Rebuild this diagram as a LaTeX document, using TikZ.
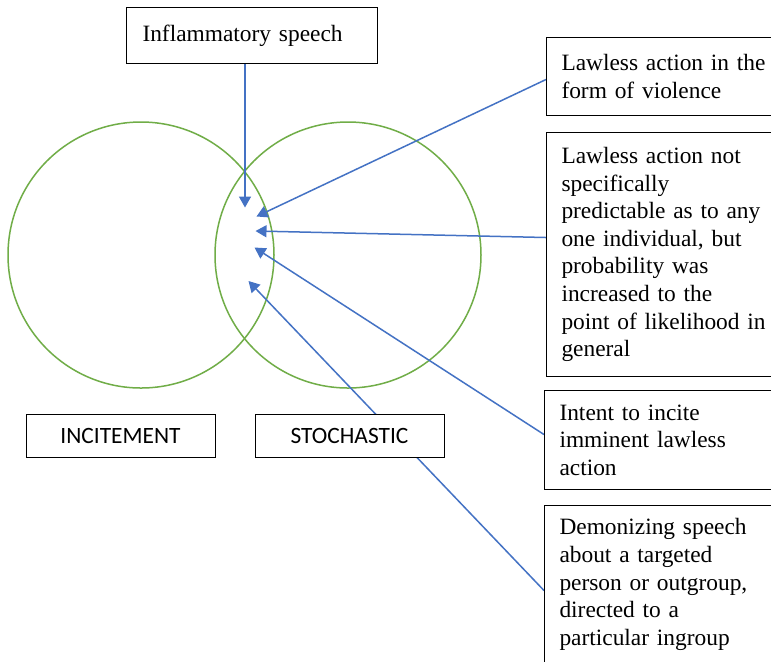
\documentclass[tikz,border=0pt]{standalone}
\usepackage{fontspec}
\setmainfont{Liberation Serif}
\newfontfamily\labelsans{Carlito}
\usetikzlibrary{arrows.meta}
\usetikzlibrary{backgrounds}
\tikzset{>={Triangle[length=5.5pt,width=6pt]}}
\colorlet{background}{white}
\definecolor{ringColor}{RGB}{112,173,71}
\definecolor{arrowColor}{RGB}{68,114,196}
\tikzset{
  notebox/.style={draw, fill=background, line width=0.5pt, anchor=north west,
    inner xsep=7.5pt, inner ysep=0pt, align=left,
    font=\fontsize{11.7}{13.8}\selectfont},
  setbox/.style={draw, fill=background, line width=0.5pt, inner sep=0pt,
    minimum width=94.5pt, minimum height=21.5pt,
    font=\labelsans\fontsize{11.7}{14}\selectfont},
  pointer/.style={->, arrowColor, line width=0.75pt},
}

\begin{document}
\begin{tikzpicture}[x=0.5pt,y=-0.5pt]
  \useasboundingbox (0,0) rectangle (771,661);
      \coordinate (L) at (141,255);
      \coordinate (R) at (348,255);
      % arrow tips in the overlap
      \coordinate (t0) at (245,207.5);
      \coordinate (t1) at (256.5,216.5);
      \coordinate (t2) at (255.5,231);
      \coordinate (t3) at (254.5,247.5);
      \coordinate (t4) at (248.5,281);
      \node[notebox, text width=109.5pt, inner xsep=8pt, minimum height=28pt] (infl) at (126,7) {Inflammatory speech};
      \node[notebox, text width=110pt, minimum height=39pt] (form) at (546,37)
        {Lawless action in the\\ form of violence};
      \node[notebox, text width=110pt, minimum height=122pt] (likely) at (546,132)
        {Lawless action not\\ specifically\\ predictable as to any\\ one individual, but\\ probability was\\ increased to the\\ point of likelihood in\\ general};
      \node[notebox, text width=110pt, minimum height=49.5pt] (intent) at (544,390)
        {Intent to incite\\ imminent lawless\\ action};
      \node[notebox, text width=110pt, minimum height=79pt] (demon) at (544,505)
        {Demonizing speech\\ about a targeted\\ person or outgroup,\\ directed to a\\ particular ingroup};
      \node[setbox] (incite) at (120.5,435.5) {INCITEMENT};
      \node[setbox] (stoch) at (349.5,435.5) {STOCHASTIC};
    \begin{scope}[on background layer]
      \fill[background] (0,0) rectangle (771,661);
      \draw[ringColor, line width=0.75pt] (L) circle [radius=133];
      \draw[ringColor, line width=0.75pt] (R) circle [radius=133];
      \draw[pointer] (infl.south -| t0) -- (t0);
      \draw[pointer] ([yshift=-1.5pt]form.west) -- (t1);
      \draw[pointer] ([yshift=8.5pt]likely.west) -- (t2);
      \draw[pointer] ([yshift=2.75pt]intent.west) -- (t3);
      \draw[pointer] ([yshift=-3pt]demon.west) -- (t4);
    \end{scope}
    \end{tikzpicture}
\end{document}
